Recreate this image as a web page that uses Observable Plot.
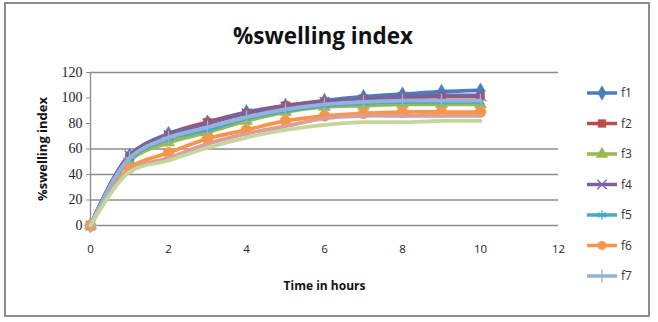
<!DOCTYPE html>
<html>
<head>
<meta charset="utf-8">
<script src="https://cdn.jsdelivr.net/npm/d3@7"></script>
<script src="https://cdn.jsdelivr.net/npm/@observablehq/plot@0.6"></script>
<style>
  html, body { margin: 0; padding: 0; background: #fff; }
  #wrap { position: relative; width: 658px; height: 322px; overflow: hidden; }
  #frame { position: absolute; left: 4px; top: 2px; width: 642px; height: 311px; border: 2px solid #8c8c8c; box-sizing: content-box; }
  #title { position: absolute; left: 0; top: 20px; width: 658px; text-align: center; font-family: "Open Sans", sans-serif; font-weight: bold; font-size: 22.5px; color: #111; margin-left: -6px; }
  #chart { position: absolute; left: 0; top: 60px; }
  #legend { position: absolute; left: 0; top: 0; }
</style>
</head>
<body>
<div id="wrap">
  <div id="frame"></div>
  <div id="title">%swelling index</div>
  <div id="chart"></div>
  <svg id="legend" width="658" height="322"></svg>
</div>
<script>
const hours = [0, 1, 2, 3, 4, 5, 6, 7, 8, 9, 10];
const seriesNames = ["f1", "f2", "f3", "f4", "f5", "f6", "f7", "f8", "f9"];
const legendNames = ["f1", "f2", "f3", "f4", "f5", "f6", "f7"];
const f1 = [0, 55, 72, 81, 89, 94, 98, 101, 103, 105, 106];
const f2 = [0, 54, 71, 81, 88, 94, 97, 99, 100, 101, 101];
const f3 = [0, 51, 65, 73, 82, 89, 93, 94, 95, 95, 95];
const f4 = [0, 55, 71, 80, 88, 93, 97, 99, 101, 102, 102];
const f5 = [0, 52, 68, 75, 84, 90, 94, 96, 97, 97, 97];
const f6 = [0, 45, 57, 68, 75, 82, 86, 88, 89, 89, 89];
const f7 = [0, 53, 69, 77, 85, 91, 95, 97, 98, 98, 98];
const f8 = [0, 43, 53, 64, 72, 78, 84, 86, 86, 86, 86];
const f9 = [0, 42, 51, 61, 69, 75, 79, 81, 81, 82, 82];
const yTicks = [0, 20, 40, 60, 80, 100, 120];
const xTicks = [0, 2, 4, 6, 8, 10, 12];
const gridValues = [20, 40, 60];

const colors = ["#4A7EBB", "#BE4B48", "#98B954", "#7D60A0", "#46AAC5", "#F79646", "#95B3D7", "#DC9E9C", "#C3D69B"];
const symbols = ["diamond", "square", "triangle", "times", "asterisk", "circle", "plus", null, null];
const filled = [true, true, true, false, false, true, false, false, false];

const allValues = [f1, f2, f3, f4, f5, f6, f7, f8, f9];
const rows = [];
seriesNames.forEach((s, i) => hours.forEach((h, j) => rows.push({series: s, t: h, v: allValues[i][j], idx: i})));

const marks = [
  Plot.ruleY(gridValues, {stroke: "#8c8c8c", strokeWidth: 1.3}),
  Plot.ruleY([0, 120], {stroke: "#8c8c8c", strokeWidth: 1.3}),
  Plot.ruleX([0], {y1: 0, y2: 120, stroke: "#8c8c8c", strokeWidth: 1.3}),
  Plot.axisY({ticks: yTicks, tickSize: 4, tickPadding: 4, stroke: "#8c8c8c", label: null,
    fontFamily: "Liberation Serif", fontSize: 14, color: "#222"}),
  Plot.axisX({ticks: xTicks, tickSize: 0, tickPadding: 19, label: null,
    fontFamily: "Open Sans", fontSize: 11.5, color: "#222"}),
  Plot.text(["%swelling index"], {frameAnchor: "left", textAnchor: "middle", rotate: -90, dx: -48, fontWeight: "bold",
    fontFamily: "Open Sans", fontSize: 13, fill: "#111"}),
  Plot.text(["Time in hours"], {frameAnchor: "bottom", dy: 64, fontWeight: "bold",
    fontFamily: "Open Sans", fontSize: 12, fill: "#111"})
];
seriesNames.forEach((s, i) => {
  const d = rows.filter(r => r.series === s);
  marks.push(Plot.line(d, {x: "t", y: "v", stroke: colors[i], strokeWidth: 3.8, curve: "catmull-rom"}));
  if (symbols[i]) {
    marks.push(Plot.dot(d, {x: "t", y: "v", symbol: symbols[i], r: symbols[i] === "circle" ? 5.5 : 4.5,
      fill: filled[i] ? colors[i] : "none", stroke: colors[i], strokeWidth: filled[i] ? 0.5 : 1.3}));
  }
});

const chart = Plot.plot({
  width: 658,
  height: 262,
  marginLeft: 90,
  marginRight: 100,
  marginTop: 12,
  marginBottom: 97,
  x: {domain: [0, 12]},
  y: {domain: [0, 120]},
  style: {background: "transparent", overflow: "visible"},
  marks
});
document.getElementById("chart").appendChild(chart);

// legend
const leg = d3.select("#legend");
legendNames.forEach((name, i) => {
  const y = 93 + i * 30.5;
  const g = leg.append("g");
  g.append("line").attr("x1", 587).attr("x2", 617).attr("y1", y).attr("y2", y)
    .attr("stroke", colors[i]).attr("stroke-width", 3.5);
  const symMap = {diamond: d3.symbolDiamond, square: d3.symbolSquare, triangle: d3.symbolTriangle,
    times: d3.symbolTimes, asterisk: d3.symbolAsterisk, circle: d3.symbolCircle, plus: d3.symbolPlus};
  g.append("path").attr("d", d3.symbol(symMap[symbols[i]], 60)())
    .attr("transform", `translate(602,${y})`)
    .attr("fill", filled[i] ? colors[i] : "none")
    .attr("stroke", colors[i]).attr("stroke-width", filled[i] ? 0.5 : 1.3);
  g.append("text").attr("x", 621).attr("y", y).attr("dy", "0.35em")
    .attr("font-family", "Open Sans").attr("font-size", 12).attr("fill", "#333").text(name);
});
</script>
</body>
</html>
